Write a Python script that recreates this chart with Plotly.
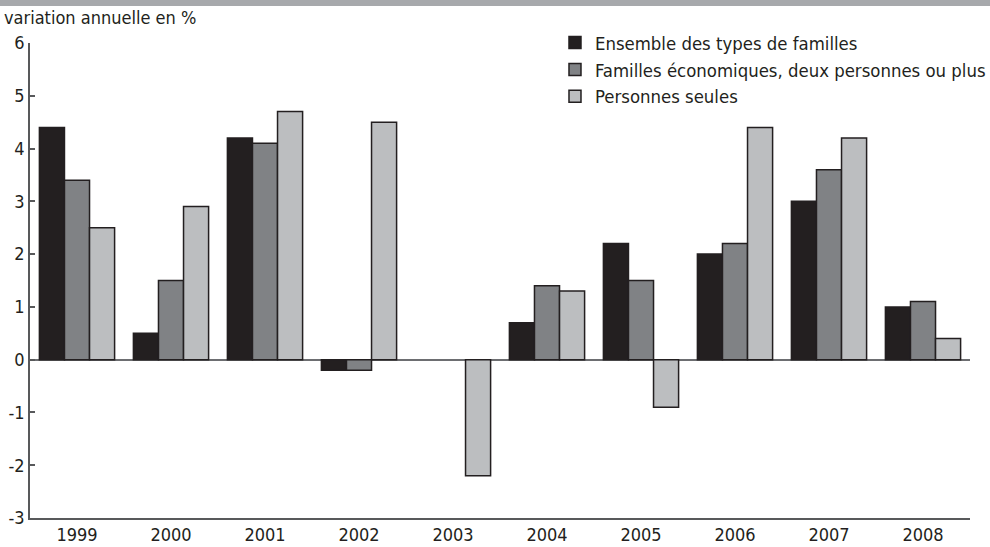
import plotly.graph_objects as go

years = ["1999", "2000", "2001", "2002", "2003", "2004", "2005", "2006", "2007", "2008"]
ensemble = [4.4, 0.5, 4.2, -0.2, None, 0.7, 2.2, 2.0, 3.0, 1.0]
familles = [3.4, 1.5, 4.1, -0.2, None, 1.4, 1.5, 2.2, 3.6, 1.1]
seules = [2.5, 2.9, 4.7, 4.5, -2.2, 1.3, -0.9, 4.4, 4.2, 0.4]

series_names = [
    "Ensemble des types de familles",
    "Familles économiques, deux personnes ou plus",
    "Personnes seules",
]
colors = ["#231f20", "#808285", "#bcbec0"]

y_ticks = [-3, -2, -1, 0, 1, 2, 3, 4, 5, 6]
y_labels = ["-3", "-2", "-1", "0", "1", "2", "3", "4", "5", "6"]

FONT = "DejaVu Sans Condensed, Liberation Sans Narrow, Arial Narrow, sans-serif"
INK = "#231f20"

fig = go.Figure()
for name, vals, col in zip(series_names, [ensemble, familles, seules], colors):
    fig.add_trace(go.Bar(
        x=years, y=vals, name=name,
        marker=dict(color=col, line=dict(color=INK, width=1.5)),
    ))

# grey band at the top of the figure
fig.add_shape(type="rect", xref="paper", yref="paper",
              x0=-0.1, x1=1.1, y0=1.078, y1=1.1, fillcolor="#a7a9ac",
              line_width=0, layer="above")

fig.add_annotation(text="variation annuelle en %", xref="paper", yref="paper",
                   x=-0.030, y=1.053, xanchor="left", yanchor="middle",
                   showarrow=False, font=dict(size=18, color=INK, family=FONT))

fig.update_layout(
    width=990, height=547,
    barmode="group", bargap=0.2, bargroupgap=0,
    plot_bgcolor="white", paper_bgcolor="white",
    font=dict(family=FONT, size=18, color=INK),
    margin=dict(l=30, r=20, t=43, b=29, autoexpand=False),
    legend=dict(x=0.5585, y=1.04, xanchor="left", yanchor="top",
                bgcolor="rgba(0,0,0,0)", font=dict(size=18.4),
                tracegroupgap=4),
    showlegend=True,
)
fig.update_xaxes(range=[-0.5, 9.5], showline=True, linecolor="#58595b",
                 linewidth=1.5, ticks="", showgrid=False, zeroline=False,
                 automargin=False)
fig.update_yaxes(range=[-3, 6], tickvals=y_ticks, ticktext=y_labels,
                 showline=True, linecolor="#58595b",
                 linewidth=1.5, ticks="inside", ticklen=5, tickcolor="#58595b",
                 tickwidth=1.5, showgrid=False, zeroline=True,
                 zerolinecolor="#6d6e71", zerolinewidth=2, automargin=False)

fig.write_html("out.html", config={"displayModeBar": False},
               post_script="document.body.style.margin='0';document.body.style.overflow='hidden';")
